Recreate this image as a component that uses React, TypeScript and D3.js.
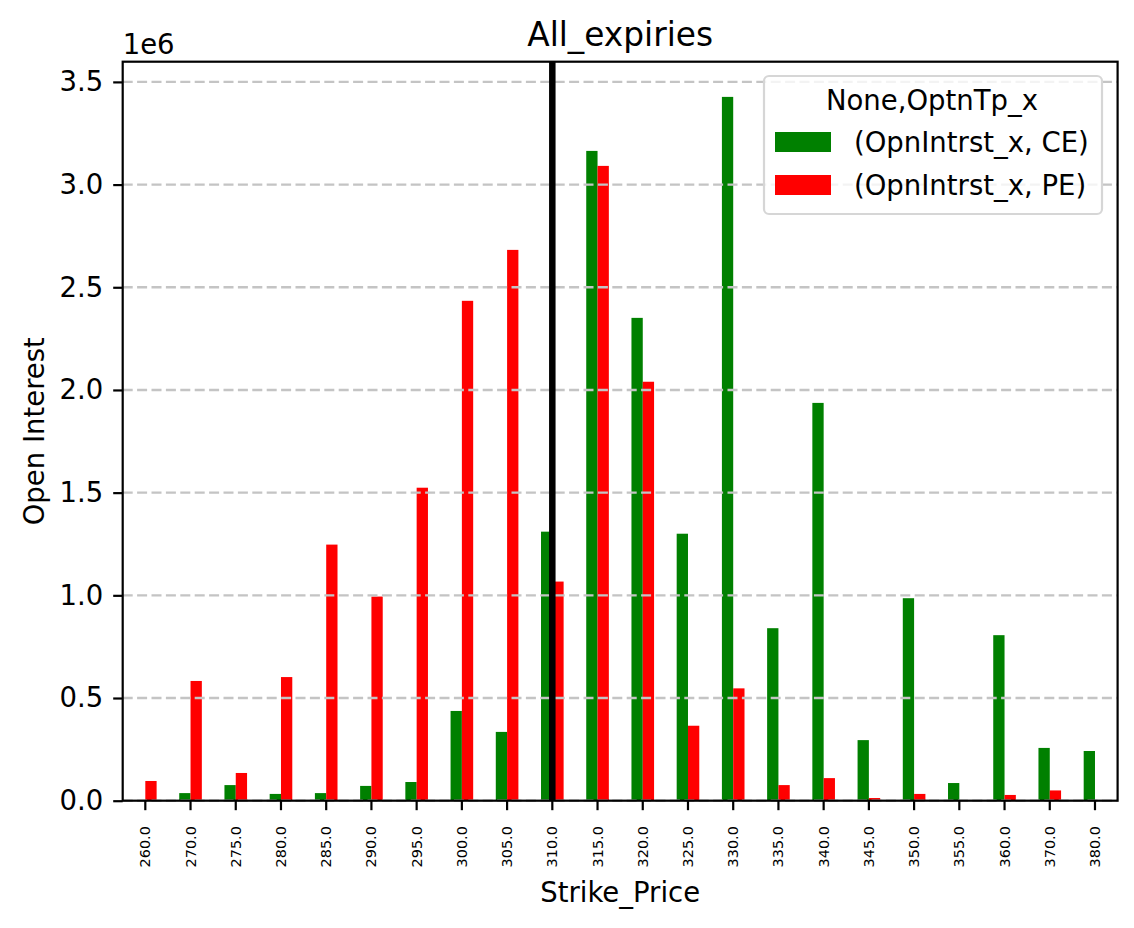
import React, { useEffect, useRef } from 'react';
import * as d3 from 'd3';

const strikes = [
  "260.0", "270.0", "275.0", "280.0", "285.0", "290.0", "295.0", "300.0", "305.0", "310.0", "315.0",
  "320.0", "325.0", "330.0", "335.0", "340.0", "345.0", "350.0", "355.0", "360.0", "370.0", "380.0",
];

// open interest, calls (CE)
const ceOI = [
  0, 37000, 76000, 33000, 37000, 72000, 91000, 437000, 335000, 1310000, 3164000,
  2351000, 1300000, 3427000, 840000, 1937000, 295000, 986000, 86000, 806000, 257000, 242000,
];

// open interest, puts (PE)
const peOI = [
  96000, 583000, 135000, 602000, 1247000, 994000, 1524000, 2434000, 2682000, 1067000, 3091000,
  2040000, 365000, 547000, 76000, 110000, 13000, 33000, 0, 28000, 50000, 0,
];

const seriesKeys = ["CE", "PE"];
const seriesLabels = ["(OpnIntrst_x, CE)", "(OpnIntrst_x, PE)"];
const seriesColors = ["#008000", "#ff0000"];
const yTicks = [0, 0.5e6, 1e6, 1.5e6, 2e6, 2.5e6, 3e6, 3.5e6];
const spotStrike = "310.0";

export default function App() {
  const svgRef = useRef<SVGSVGElement>(null);

  useEffect(() => {
    if (!svgRef.current) return;

    const width = 1134;
    const height = 928;
    const left = 122.7, right = 1117.6, top = 61.7, bottom = 800.7;
    const font = "DejaVu Sans";
    const fs = 27.5;

    const svg = d3.select(svgRef.current)
      .attr("width", width)
      .attr("height", height)
      .attr("viewBox", `0 0 ${width} ${height}`);

    svg.append("rect").attr("width", width).attr("height", height).attr("fill", "#fff");

    const x = d3.scaleBand<string>().domain(strikes).range([left, right]).padding(0);
    const bw = x.bandwidth();
    const xSub = d3.scaleBand<string>().domain(seriesKeys).range([bw * 0.25, bw * 0.75]);
    const yMax = (d3.max([...ceOI, ...peOI]) as number) * 1.05;
    const y = d3.scaleLinear().domain([0, yMax]).range([bottom, top]);

    const rows = strikes.map((s, i) => ({ strike: s, CE: ceOI[i], PE: peOI[i] }));

    // Bars
    const groups = svg.append("g")
      .selectAll("g")
      .data(rows)
      .enter()
      .append("g")
      .attr("transform", (d) => `translate(${x(d.strike)},0)`);

    groups.selectAll("rect")
      .data((d: any) => seriesKeys.map((k, j) => ({ key: k, value: d[k], color: seriesColors[j] })))
      .enter()
      .filter((d) => d.value > 0)
      .append("rect")
      .attr("x", (d) => xSub(d.key) as number)
      .attr("width", xSub.bandwidth())
      .attr("y", (d) => y(d.value))
      .attr("height", (d) => bottom - y(d.value))
      .attr("fill", (d) => d.color);

    // Grid (drawn above the bars, like matplotlib)
    svg.append("g")
      .selectAll("line")
      .data(yTicks)
      .enter()
      .append("line")
      .attr("x1", left)
      .attr("x2", right)
      .attr("y1", (d) => y(d))
      .attr("y2", (d) => y(d))
      .attr("stroke", "#c4c4c4")
      .attr("stroke-width", 2.4)
      .attr("stroke-dasharray", "10 4.4");

    // Spot line
    const sx = (x(spotStrike) as number) + bw / 2;
    svg.append("line")
      .attr("x1", sx).attr("x2", sx)
      .attr("y1", top).attr("y2", bottom)
      .attr("stroke", "#000")
      .attr("stroke-width", 6.5);

    // Axes
    const yAxis = d3.axisLeft(y)
      .tickValues(yTicks)
      .tickFormat((d) => ((d as number) / 1e6).toFixed(1))
      .tickSize(9.5)
      .tickPadding(10);
    const gy = svg.append("g").attr("transform", `translate(${left},0)`).call(yAxis);
    gy.select(".domain").remove();
    gy.selectAll(".tick line").attr("stroke", "#000").attr("stroke-width", 2.2);
    gy.selectAll(".tick text")
      .attr("font-family", font)
      .attr("font-size", fs)
      .attr("fill", "#000");

    const xAxis = d3.axisBottom(x).tickSize(9.5).tickSizeOuter(0);
    const gx = svg.append("g").attr("transform", `translate(0,${bottom})`).call(xAxis);
    gx.select(".domain").remove();
    gx.selectAll(".tick line").attr("stroke", "#000").attr("stroke-width", 2.2);
    gx.selectAll(".tick text")
      .attr("font-family", font)
      .attr("font-size", 14.4)
      .attr("fill", "#000")
      .attr("text-anchor", "end")
      .attr("transform", "rotate(-90)")
      .attr("x", -25.5)
      .attr("y", 0)
      .attr("dy", "0.35em");

    // Frame
    svg.append("rect")
      .attr("x", left).attr("y", top)
      .attr("width", right - left).attr("height", bottom - top)
      .attr("fill", "none")
      .attr("stroke", "#000")
      .attr("stroke-width", 2.2);

    // Texts
    svg.append("text")
      .attr("x", (left + right) / 2).attr("y", 46)
      .attr("text-anchor", "middle")
      .attr("font-family", font).attr("font-size", 32.8)
      .text("All_expiries");

    svg.append("text")
      .attr("x", left).attr("y", 54)
      .attr("font-family", font).attr("font-size", fs)
      .text("1e6");

    svg.append("text")
      .attr("x", (left + right) / 2).attr("y", 902)
      .attr("text-anchor", "middle")
      .attr("font-family", font).attr("font-size", fs)
      .text("Strike_Price");

    svg.append("text")
      .attr("transform", `translate(44,${(top + bottom) / 2}) rotate(-90)`)
      .attr("text-anchor", "middle")
      .attr("font-family", font).attr("font-size", fs)
      .text("Open Interest");

    // Legend
    const lg = svg.append("g");
    lg.append("rect")
      .attr("x", 764).attr("y", 76)
      .attr("width", 338).attr("height", 138)
      .attr("rx", 5)
      .attr("fill", "#fff").attr("fill-opacity", 0.8)
      .attr("stroke", "#d6d6d6").attr("stroke-width", 2.2);

    lg.append("text")
      .attr("x", 932).attr("y", 110)
      .attr("text-anchor", "middle")
      .attr("font-family", font).attr("font-size", fs)
      .text("None,OptnTp_x");

    seriesLabels.forEach((label, i) => {
      const cy = 142 + i * 43;
      lg.append("rect")
        .attr("x", 775).attr("y", cy - 10)
        .attr("width", 56).attr("height", 20)
        .attr("fill", seriesColors[i]);
      lg.append("text")
        .attr("x", 854).attr("y", cy + 10)
        .attr("font-family", font).attr("font-size", fs)
        .text(label);
    });

    return () => {
      d3.select(svgRef.current).selectAll("*").remove();
    };
  }, []);

  return (
    <svg ref={svgRef} style={{ position: "absolute", left: 0, top: 0, display: "block" }}></svg>
  );
}
